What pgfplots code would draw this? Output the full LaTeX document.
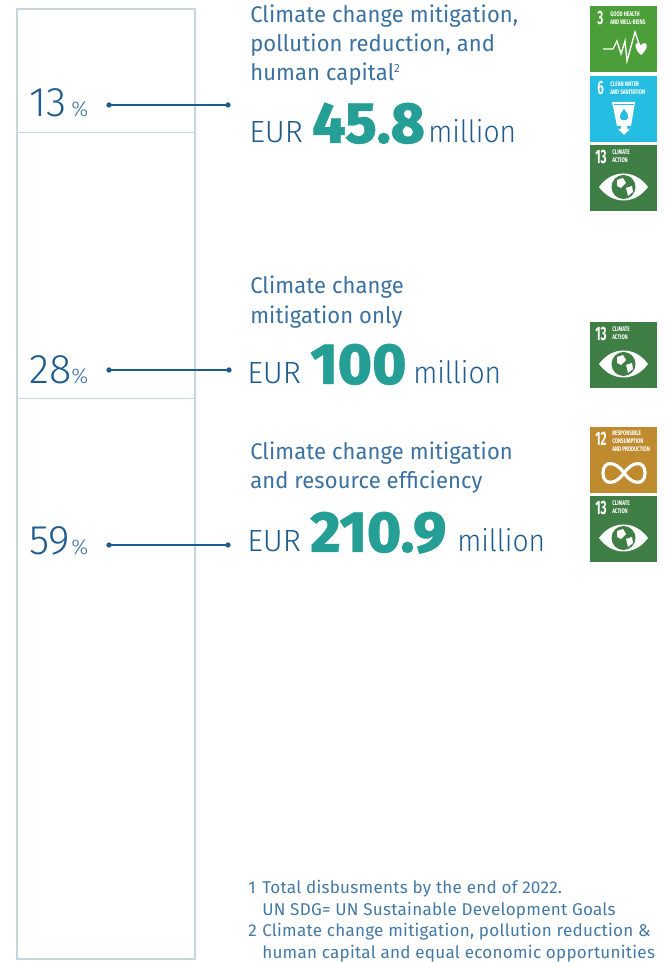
\documentclass[border=0pt]{standalone}
\usepackage{pgfplots}
\pgfplotsset{compat=1.18}
\usepackage{fontspec}
\setmainfont{Fira Sans}
\newfontfamily\lightf{Fira Sans Light}
\newfontfamily\lightn{Fira Sans Light}[FakeStretch=0.92]
\newfontfamily\headf{Fira Sans}[FakeStretch=0.97,LetterSpace=0.5]
\newfontfamily\heavyf{Fira Sans ExtraBold}[FakeBold=0.6]
\newfontfamily\condf{Fira Sans}[FakeStretch=0.7]
\newfontfamily\numf{Fira Sans}[FakeStretch=0.6]
\definecolor{barline}{HTML}{C6D6DD}
\definecolor{darkb}{HTML}{1F5C8E}
\definecolor{midb}{HTML}{3A71A0}
\definecolor{noteb}{HTML}{4479A5}
\definecolor{teal}{HTML}{259E96}
\definecolor{sdgiii}{HTML}{4C9F38}
\definecolor{sdgvi}{HTML}{26BDE2}
\definecolor{sdgxii}{HTML}{BF8B2E}
\definecolor{sdgxiii}{HTML}{3F7E44}
\newcommand{\lab}[4]{\node[anchor=base west,inner sep=0pt,text=#3] at (#1,#2) {#4};}
\newcommand{\amount}[5]{%
 \lab{#1}{#2}{darkb}{\lightf\fontsize{23}{23}\selectfont EUR}
 \lab{#3}{#2}{teal}{\heavyf\fontsize{43.5}{43.5}\selectfont #4}
 \lab{#5}{#2}{darkb}{\lightn\fontsize{23}{23}\selectfont million}}
\newcommand{\pct}[2]{\lab{29}{#1}{darkb}{\lightf\fontsize{31}{31}\selectfont #2}}
\newcommand{\pctsign}[1]{\lab{71}{#1}{midb}{\lightf\fontsize{16}{16}\selectfont\%}}
\newcommand{\head}[2]{\lab{250}{#1}{midb}{\headf\fontsize{17}{17}\selectfont #2}}
\newcommand{\note}[3]{\lab{#1}{#2}{noteb}{\fontsize{12.8}{12.8}\selectfont\addfontfeature{LetterSpace=1.5}#3}}
% icon: y top, colour, number position, number, content
\newcommand{\icon}[5]{%
 \begin{scope}[shift={(590,#1)}]
 \fill[#2] (0,0) rectangle (67,66);
 \node[anchor=base west,inner sep=0pt,text=white] at (#3) {\numf\bfseries\fontsize{14.5}{14.5}\selectfont #4};
 #5
 \end{scope}}
\newcommand{\smalltxt}[3]{\node[anchor=base west,inner sep=0pt,text=white] at (#1,#2) {\condf\bfseries\fontsize{5}{5}\selectfont #3};}
\newcommand{\eye}[1]{%
 \fill[white] (9,42) .. controls (22,24) and (45,24) .. (58,42) .. controls (45,60) and (22,60) .. (9,42) -- cycle;
 \fill[#1] (33.5,42) circle (12);
 \fill[white] (27,35) -- (33,33) -- (36,38) -- (31,43) -- (27,41) -- cycle;
 \fill[white] (36,43) -- (42,41) -- (43,47) -- (38,51) -- cycle;}
\begin{document}
\begin{tikzpicture}
\path[use as bounding box] (0,0) rectangle (498.75pt,721.5pt);
\begin{axis}[
  at={(0,0)},anchor=south west,
  scale only axis,width=498.75pt,height=721.5pt,
  hide axis,
  xmin=0,xmax=665,
  ymin=-0.3158,ymax=100.9474,
  ybar stacked,
  bar width=133.5pt,
  clip=false]
\addplot[ybar,fill=white,draw=barline,line width=1pt] coordinates {(106,59)};
\addplot[ybar,fill=white,draw=barline,line width=1pt] coordinates {(106,28)};
\addplot[ybar,fill=white,draw=barline,line width=1pt] coordinates {(106,13)};
\end{axis}
\begin{axis}[
  at={(0,0)},anchor=south west,
  scale only axis,width=498.75pt,height=721.5pt,
  hide axis,
  xmin=0,xmax=665,ymin=-0.3158,ymax=100.9474,
  clip=false]
\addplot[darkb,line width=0.9pt,mark=*,mark size=1.5pt] coordinates {(109,89.9) (228,89.9)};
\addplot[darkb,line width=0.9pt,mark=*,mark size=1.5pt] coordinates {(109,62.0) (229,62.0)};
\addplot[darkb,line width=0.9pt,mark=*,mark size=1.5pt] coordinates {(109,43.58) (228,43.58)};
\end{axis}
\begin{scope}[x=0.75pt,y=-0.75pt,yshift=721.5pt]
\pct{117}{13}\pctsign{117}
\pct{384}{28}\pctsign{384}
\pct{555}{59}\pctsign{555}
\head{23}{Climate change mitigation,}
\head{52}{pollution reduction, and}
\head{81}{human capital\raisebox{6pt}{\fontsize{9}{9}\selectfont 2}}
\amount{249}{143}{312}{45.8}{428}
\head{294}{Climate change}
\head{324}{mitigation only}
\amount{247}{384}{310}{100}{413}
\head{460}{Climate change mitigation}
\head{489}{and resource efficiency}
\amount{247}{552}{310}{210.9}{457}
\note{248}{894}{1}\note{262}{894}{Total disbusments by the end of 2022.}
\note{262}{916}{UN SDG= UN Sustainable Development Goals}
\note{248}{937}{2}\note{262}{937}{Climate change mitigation, pollution reduction \&}
\note{262}{959}{human capital and equal economic opportunities}
\icon{6}{sdgiii}{7,19}{3}{\smalltxt{20}{11}{GOOD HEALTH}\smalltxt{20}{19}{AND WELL-BEING}
 \draw[white,line width=1pt] (13,43) -- (23,43) -- (27,35) -- (31,48) -- (35,35) -- (37,55) -- (45,26) -- (49,38);
 \fill[white] (51,49) .. controls (44,43) and (44.5,37) .. (47.5,37) .. controls (50,37) and (51,39) .. (51,40) .. controls (51,39) and (52,37) .. (54.5,37) .. controls (58,37) and (58,43) .. (51,49) -- cycle;}
\icon{76}{sdgvi}{7,19}{6}{\smalltxt{20}{11}{CLEAN WATER}\smalltxt{20}{19}{AND SANITATION}
 \fill[white] (22,26) -- (45,26) -- (41,50) -- (27,50) -- cycle;
 \fill[sdgvi] (23.5,28) rectangle (43.5,29);
 \fill[white] (31,50) -- (37,50) -- (37,53) -- (40,53) -- (34,59) -- (28,53) -- (31,53) -- cycle;
 \fill[sdgvi] (34,33) .. controls (31,37) and (29,39) .. (30,42) .. controls (31,45) and (37,45) .. (38,42) .. controls (39,39) and (37,37) .. (34,33) -- cycle;}
\icon{145}{sdgxiii}{5,19}{13}{\smalltxt{22}{10}{CLIMATE}\smalltxt{22}{18}{ACTION}\eye{sdgxiii}}
\icon{322}{sdgxiii}{5,19}{13}{\smalltxt{22}{10}{CLIMATE}\smalltxt{22}{18}{ACTION}\eye{sdgxiii}}
\icon{427}{sdgxii}{5,19}{12}{\smalltxt{22}{9}{RESPONSIBLE}\smalltxt{22}{17}{CONSUMPTION}\smalltxt{22}{25}{AND PRODUCTION}
 \draw[white,line width=2.4pt] (34,46) .. controls (26,34) and (13,33) .. (13,46) .. controls (13,59) and (26,58) .. (34,46) .. controls (42,34) and (55,33) .. (55,46) .. controls (55,59) and (42,58) .. (34,46) -- cycle;}
\icon{496}{sdgxiii}{5,19}{13}{\smalltxt{22}{10}{CLIMATE}\smalltxt{22}{18}{ACTION}\eye{sdgxiii}}
\end{scope}
\end{tikzpicture}
\end{document}
